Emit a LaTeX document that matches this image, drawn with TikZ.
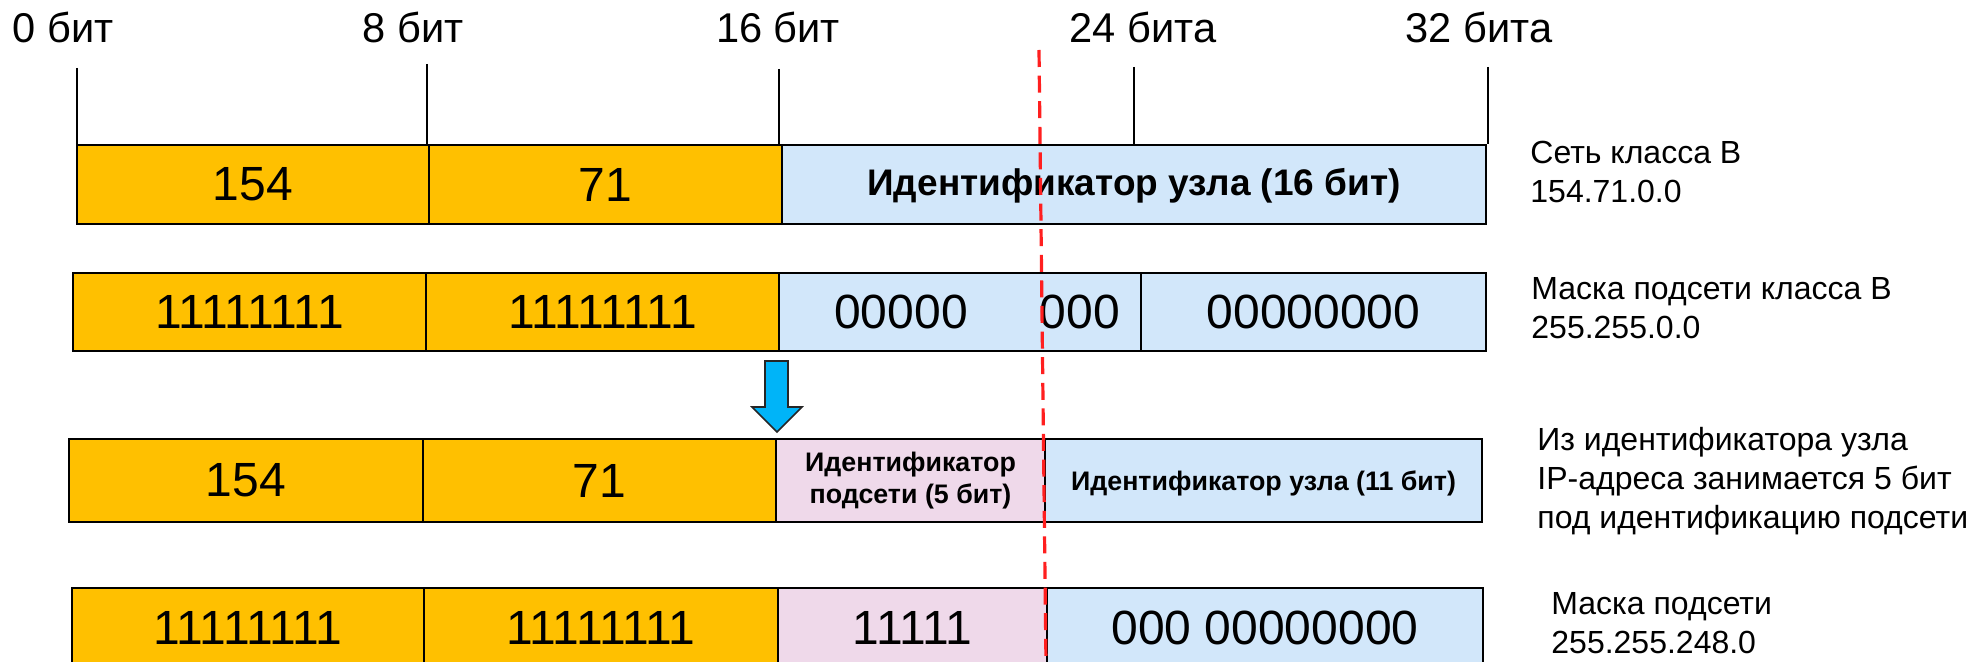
\documentclass[tikz,border=0pt]{standalone}
\usepackage{fontspec}
\setmainfont{Liberation Sans}
\definecolor{orng}{HTML}{FFC000}
\definecolor{lblue}{HTML}{D2E7FA}
\definecolor{lpink}{HTML}{EFD9EA}
\definecolor{arrblue}{HTML}{00B4F8}
\definecolor{redln}{HTML}{FF1F1F}
\begin{document}
\begin{tikzpicture}[x=0.5pt,y=-0.5pt,
  cell/.style 2 args={draw=black, line width=1pt, minimum width=#1*0.5pt, minimum height=#2*0.5pt, inner sep=0pt, anchor=center},
  num/.style={font=\fontsize{24}{28}\selectfont},
  bigbold/.style={font=\fontsize{18.5}{22}\selectfont\bfseries, inner sep=0pt},
  smallbold/.style={font=\fontsize{13.4}{16}\selectfont\bfseries, inner sep=0pt, align=center},
  ticklbl/.style={font=\fontsize{20.8}{24}\selectfont, inner sep=0pt, anchor=base},
  tickline/.style={draw=black, line width=0.75pt},
  sidelbl/.style={font=\fontsize{16}{19.5}\selectfont, inner sep=0pt, anchor=west, align=left},
  plain/.style={inner sep=0pt},
  reddash/.style={draw=redln, line width=1.6pt, dash pattern=on 8.5pt off 4.3pt}]
\useasboundingbox (0,0) rectangle (1974,662);

% row 1
\node[cell={352}{79}, fill=orng, num] (r1a) at (253,184.5) {154};
\node[cell={353}{79}, fill=orng, num] (r1b) at (605.5,184.5) {71};
\node[cell={704}{79}, fill=lblue] (r1c) at (1134,184.5) {};
\node[bigbold] (r1t) at (1134,186) {Идентификатор узла (16 бит)};

% row 2
\node[cell={353}{78}, fill=orng, num] (r2a) at (249.5,312) {11111111};
\node[cell={353}{78}, fill=orng, num] (r2b) at (602.5,312) {11111111};
\node[cell={362}{78}, fill=lblue] (r2c) at (960,312) {};
\node[cell={345}{78}, fill=lblue, num] (r2d) at (1313.5,312) {00000000};
\node[plain, num] (r2c1) at (901,312) {00000};
\node[plain, num] (r2c2) at (1080,312) {000};

% row 3
\node[cell={354}{83}, fill=orng, num] (r3a) at (246,480.5) {154};
\node[cell={353}{83}, fill=orng, num] (r3b) at (599.5,480.5) {71};
\node[cell={269}{83}, fill=lpink, smallbold] (r3c) at (910.5,480.5) {Идентификатор\\подсети (5 бит)};
\node[cell={437}{83}, fill=lblue] (r3d) at (1263.5,480.5) {};
\node[smallbold] (r3t) at (1263.5,483) {Идентификатор узла (11 бит)};

% row 4
\node[cell={352}{80}, fill=orng, num] (r4a) at (248,628) {11111111};
\node[cell={354}{80}, fill=orng, num] (r4b) at (601,628) {11111111};
\node[cell={269}{80}, fill=lpink, num] (r4c) at (912.5,628) {11111};
\node[cell={436}{80}, fill=lblue, num] (r4d) at (1265,628) {000 00000000};

% ticks
\coordinate (t0) at (77,68);
\coordinate (t8) at (427,64);
\coordinate (t16) at (779,69);
\coordinate (t24) at (1134,67);
\coordinate (t32) at (1488,67);
\draw[tickline] (t0) -- (t0 |- r1a.north);
\draw[tickline] (t8) -- (t8 |- r1a.north);
\draw[tickline] (t16) -- (t16 |- r1a.north);
\draw[tickline] (t24) -- (t24 |- r1a.north);
\draw[tickline] (t32) -- (t32 |- r1a.north);
\node[ticklbl] (l0) at (63,43) {0 бит};
\node[ticklbl] (l8) at (413,43) {8 бит};
\node[ticklbl] (l16) at (778,43) {16 бит};
\node[ticklbl] (l24) at (1143,43) {24 бита};
\node[ticklbl] (l32) at (1479,43) {32 бита};

% arrow
\draw[fill=arrblue, draw=black!85, line width=0.8pt, line join=miter]
  (765,361) -- (788,361) -- (788,407) -- (802,407) -- (777,432) -- (752,407) -- (765,407) -- cycle;

% side labels
\node[sidelbl] (s1) at (1530,171.5) {Сеть класса B\\154.71.0.0};
\node[sidelbl] (s2) at (1531,308.5) {Маска подсети класса B\\255.255.0.0};
\node[sidelbl] (s3) at (1537,481) {Из идентификатора узла\\IP-адреса занимается 5 бит\\под идентификацию подсети};
\node[sidelbl] (s4) at (1551,623) {Маска подсети\\255.255.248.0};

% red dashed line
\coordinate (rt) at (1039,50);
\coordinate (rb) at (1046,664);
\draw[reddash] (rt) -- (rb);
\end{tikzpicture}
\end{document}
